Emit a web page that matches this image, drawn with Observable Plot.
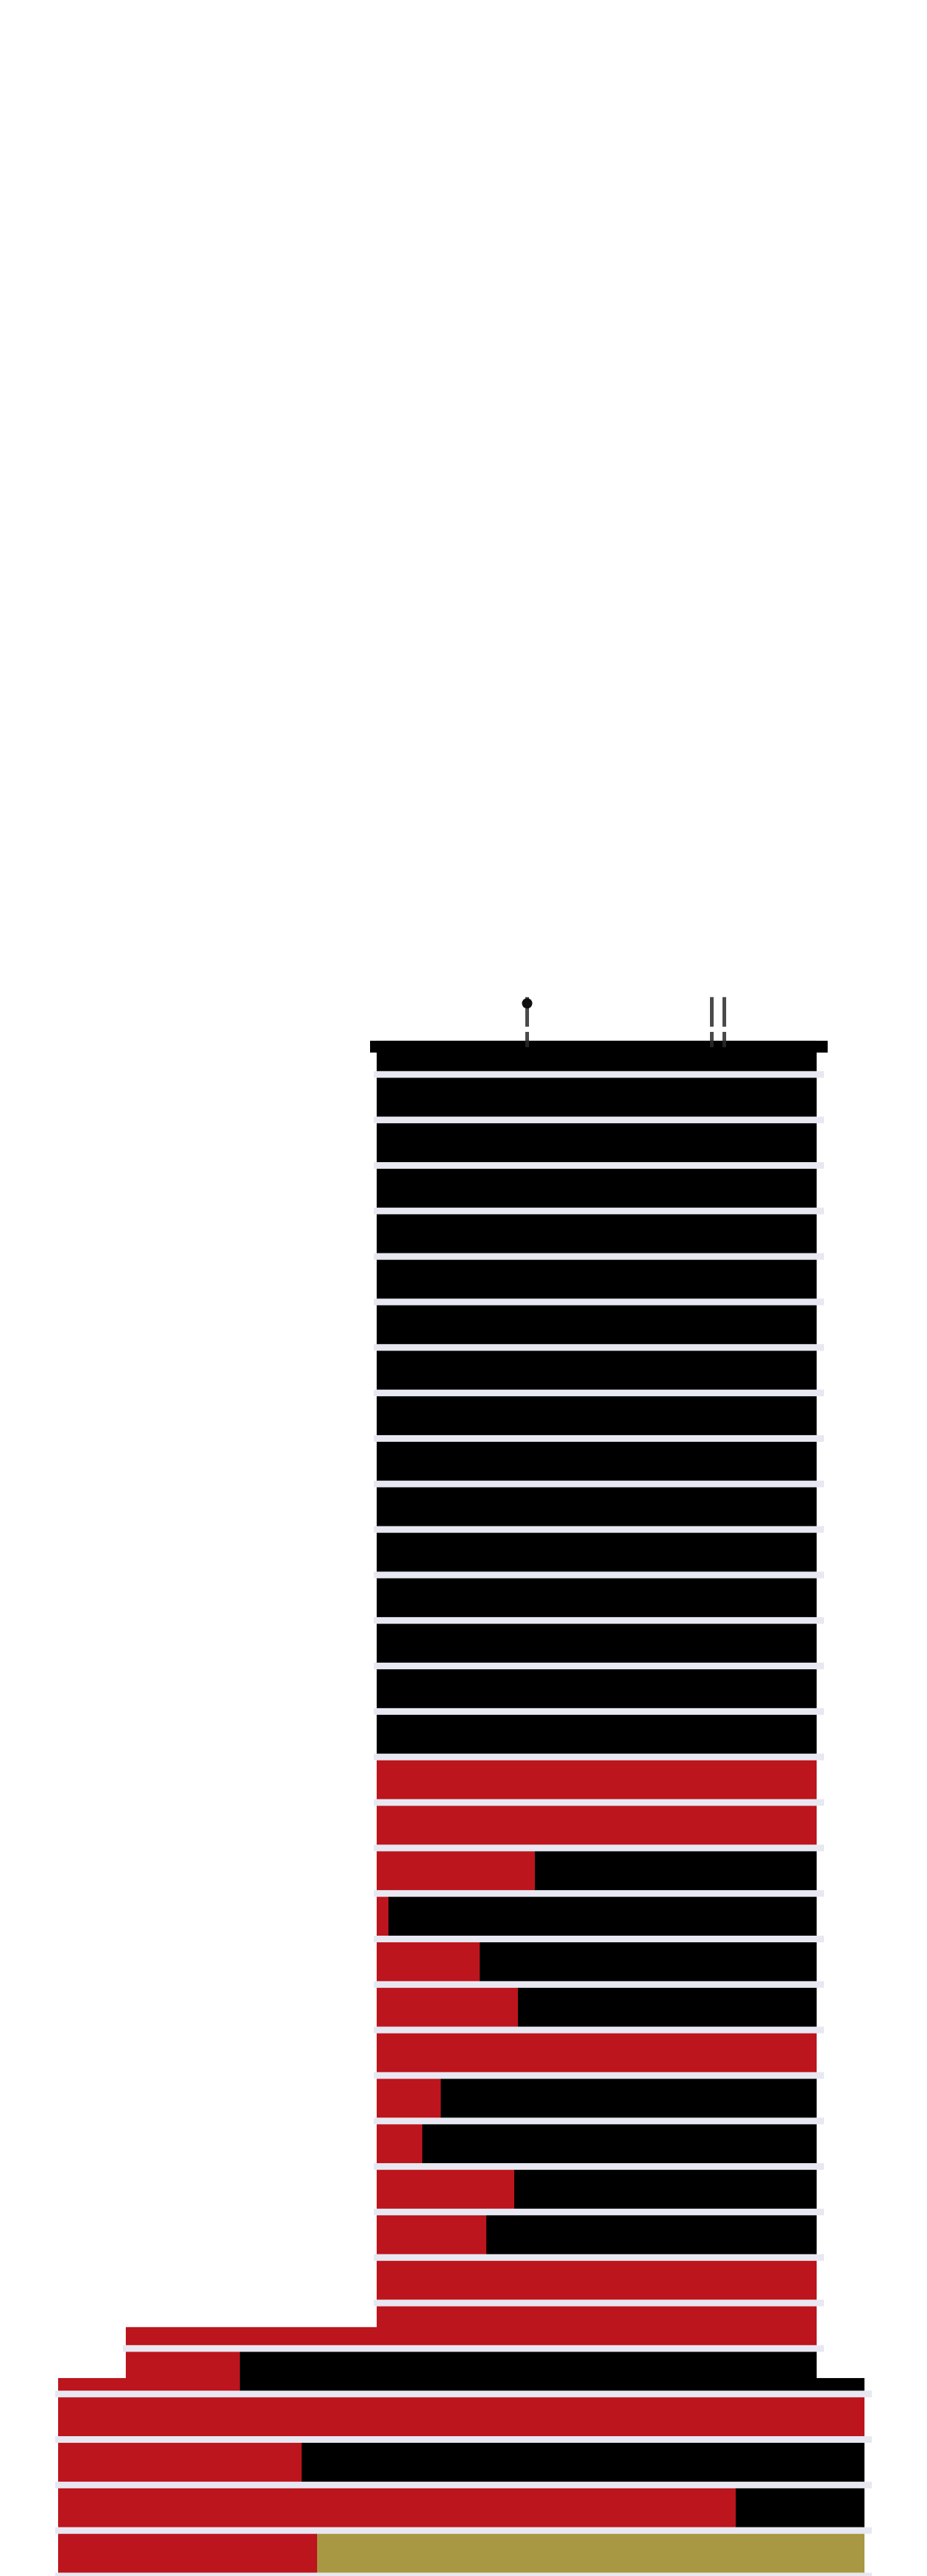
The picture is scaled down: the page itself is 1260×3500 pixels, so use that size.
<!DOCTYPE html>
<html>
<head>
<meta charset="utf-8">
<script src="https://cdn.jsdelivr.net/npm/d3@7"></script>
<script src="https://cdn.jsdelivr.net/npm/@observablehq/plot@0.6"></script>
<style>
  html, body { margin: 0; padding: 0; background: #ffffff; }
  #chart svg { display: block; }
</style>
</head>
<body>
<div id="chart"></div>
<script>
// ---- data ----
const rowIndex = [0,1,2,3,4,5,6,7,8,9,10,11,12,13,14,15,16,17,18,19,20,21,22,23,24,25,26,27,28,29,30,31,32,33];
const barStart = [51.2,51.2,51.2,51.2,51.2,51.2,51.2,51.2,51.2,51.2,51.2,51.2,51.2,51.2,51.2,51.2,51.2,51.2,51.2,51.2,51.2,51.2,51.2,51.2,51.2,51.2,51.2,51.2,51.2,17.1,7.9,7.9,7.9,7.9];
const barEnd   = [111.0,111.0,111.0,111.0,111.0,111.0,111.0,111.0,111.0,111.0,111.0,111.0,111.0,111.0,111.0,111.0,111.0,111.0,111.0,111.0,111.0,111.0,111.0,111.0,111.0,111.0,111.0,111.0,111.0,111.0,117.5,117.5,117.5,117.5];
const redEnd   = [51.2,51.2,51.2,51.2,51.2,51.2,51.2,51.2,51.2,51.2,51.2,51.2,51.2,51.2,51.2,51.2,111.0,111.0,72.7,52.8,65.2,70.4,111.0,59.9,57.4,69.9,66.1,111.0,111.0,32.6,117.5,41.0,100.0,43.1];
const restSeries = ["S2","S2","S2","S2","S2","S2","S2","S2","S2","S2","S2","S2","S2","S2","S2","S2","S2","S2","S2","S2","S2","S2","S2","S2","S2","S2","S2","S2","S2","S2","S2","S2","S2","S3"];

// wider steps of the silhouette
const extRow       = [0, 28, 29, 29];
const extFrom      = [50.3, 17.1, 7.9, 111.0];
const extTo        = [112.5, 51.2, 17.1, 117.5];
const extTopFrac   = [0.26, 0.53, 0.65, 0.65];
const extBottomFrac= [0.52, 0.927, 0.927, 0.927];
const extSeries    = ["S2", "S1", "S1", "S2"];

// marks on top
const tickValues = [71.6, 96.7, 98.4];

const seriesNames  = ["S1", "S2", "S3"];
const seriesColors = ["#bc151d", "#000000", "#a89843"];

// ---- derived tables ----
const gap = 0.073;     // half the light gap between rows (in row units)
const capTop = 0.26;   // top row starts lower

const segments = rowIndex.flatMap(i => [
  {row: i, x1: barStart[i], x2: redEnd[i], series: "S1"},
  {row: i, x1: redEnd[i], x2: barEnd[i], series: restSeries[i]}
]).filter(d => d.x2 > d.x1);

const extensions = extRow.map((r, k) => ({
  row: r, x1: extFrom[k], x2: extTo[k], t: extTopFrac[k], b: extBottomFrac[k], series: extSeries[k]
}));

function lowerExtent(r) {
  let lo = barStart[r], hi = barEnd[r];
  extensions.forEach(e => {
    if (e.row === r && e.b > 0.9) { lo = Math.min(lo, e.x1); hi = Math.max(hi, e.x2); }
  });
  return [lo, hi];
}
const separators = rowIndex.map(r => {
  const [lo, hi] = lowerExtent(r);
  return {boundary: r + 1, x1: lo - 0.4, x2: hi + 1.0};
});

const chart = Plot.plot({
  width: 1260,
  height: 3500,
  marginTop: 0, marginBottom: 0, marginLeft: 0, marginRight: 0,
  style: {background: "#ffffff"},
  x: {domain: [0, 126], range: [0, 1260], axis: null},
  y: {domain: [-1, 34], range: [1336.2, 3500], axis: null},
  color: {type: "ordinal", domain: seriesNames, range: seriesColors},
  marks: [
    // light row separators
    Plot.rect(separators, {
      x1: "x1", x2: "x2",
      y1: d => d.boundary - gap, y2: d => d.boundary + gap,
      fill: "#e8e8f2"
    }),
    // stacked bar segments
    Plot.rect(segments, {
      x1: "x1", x2: "x2",
      y1: d => d.row + (d.row === 0 ? capTop : gap),
      y2: d => d.row + 1 - gap,
      fill: "series"
    }),
    // wider steps
    Plot.rect(extensions, {
      x1: "x1", x2: "x2",
      y1: d => d.row + d.t, y2: d => d.row + d.b,
      fill: "series"
    }),
    // tick marks above the top bar
    Plot.ruleX(tickValues, {x: d => d, y1: -0.70, y2: 0.40, stroke: "#2a2a2a", strokeWidth: 5, strokeOpacity: 0.85}),
    Plot.rect([0], {x1: 70, x2: 100, y1: -0.05, y2: 0.065, fill: "#ffffff"}),
    Plot.dot([tickValues[0]], {x: d => d, y: -0.57, r: 7, fill: "#111111"})
  ]
});

document.getElementById("chart").append(chart);
</script>
</body>
</html>
